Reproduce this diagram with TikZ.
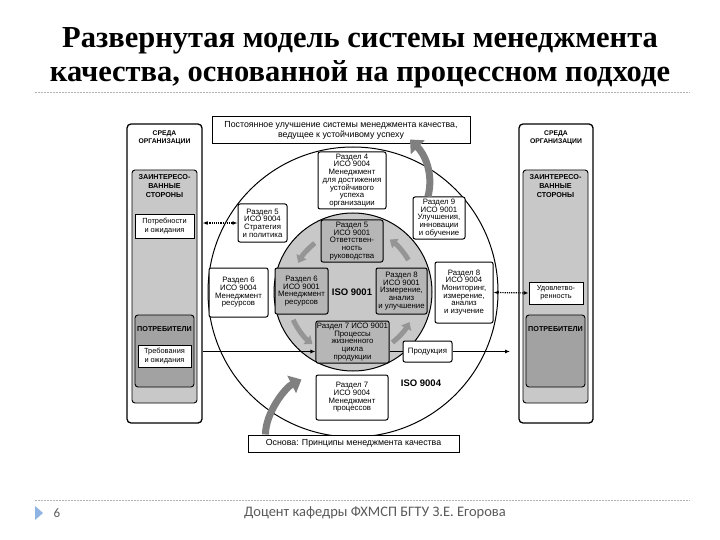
\documentclass[tikz,border=0pt]{standalone}
\usepackage{fontspec}
\setmainfont{Liberation Sans}
\newfontfamily\titlefont{Liberation Serif}
\newfontfamily\footfont{Carlito}
\usetikzlibrary{arrows.meta,positioning}
\definecolor{ltgray}{HTML}{C8C8C8}
\definecolor{dkgray}{HTML}{A2A2A2}
\definecolor{boxgray}{HTML}{B6B6B6}
\definecolor{arrgray}{HTML}{808080}
\definecolor{cycgray}{HTML}{959595}
\definecolor{footgray}{HTML}{5A5A5A}
\definecolor{bluetri}{HTML}{8EB4E3}

\begin{document}
\begin{tikzpicture}[
  x=1pt, y=-1pt,
  env/.style={draw, line width=1.3pt, rounded corners=4pt, fill=white},
  party/.style={draw, line width=0.9pt, rounded corners=3pt, fill=ltgray},
  cons/.style={draw, line width=0.9pt, rounded corners=3pt, fill=dkgray},
  hdr/.style={font=\bfseries\fontsize{6.8}{7.8}\selectfont, align=center, inner sep=0pt},
  need/.style={draw, line width=0.8pt, fill=white, align=center, inner sep=1pt, font=\fontsize{7.4}{8.2}\selectfont},
  sect/.style={draw, line width=1pt, rounded corners=2pt, fill=white, align=center, inner sep=1pt, font=\fontsize{7.8}{7.7}\selectfont},
  core/.style={sect, fill=boxgray},
  banner/.style={draw, line width=1pt, fill=white, align=center, font=\fontsize{8.8}{9.8}\selectfont},
  iso/.style={font=\bfseries\fontsize{9.5}{10}\selectfont},
  cyc/.style={line width=5pt, draw=cycgray, -{Triangle[length=7pt,width=11pt]}},
  bigcyc/.style={line width=7pt, draw=arrgray, -{Triangle[length=11pt,width=19pt]}},
  arrow/.style={-{Latex[length=5pt,width=4pt]}, line width=1pt},
  link/.style={{Latex[length=5pt,width=4pt]}-{Latex[length=5pt,width=4pt]}, densely dotted, line width=1.2pt}
]
\useasboundingbox[fill=white] (0,0) rectangle (720,540);

% title
\node[font=\titlefont\bfseries\fontsize{30.5}{34}\selectfont, align=center] (title) at (360,58)
  {Развернутая модель системы менеджмента\\качества, основанной на процессном подходе};
\draw[gray!60, dash pattern=on 2pt off 1pt, line width=0.6pt] (35,92) -- (690,92);

% left column
\node[env, minimum width=75pt, minimum height=299pt] (envL) at (164.5,273.5) {};
\node[hdr, below=7pt of envL.north] (envLt) {СРЕДА\\ОРГАНИЗАЦИИ};
\node[party, minimum width=65pt, minimum height=233pt] (partyL) at (164.5,286.5) {};
\node[hdr, font=\bfseries\fontsize{7.2}{9}\selectfont, below=5pt of partyL.north] (partyLt) {ЗАИНТЕРЕСО-\\ВАННЫЕ\\СТОРОНЫ};
\node[need, minimum width=59pt, minimum height=24pt] (needL) at (164.5,226) {Потребности\\и ожидания};
\node[cons, minimum width=59pt, minimum height=72pt] (consL) at (164.5,351) {};
\node[hdr, font=\bfseries\fontsize{7.2}{9}\selectfont, below=12pt of consL.north] (consLt) {ПОТРЕБИТЕЛИ};
\node[need, minimum width=53pt, minimum height=22pt] (reqL) at (164.5,356) {Требования\\и ожидания};

% right column
\node[env, minimum width=74pt, minimum height=299pt] (envR) at (556,273.5) {};
\node[hdr, below=7pt of envR.north] (envRt) {СРЕДА\\ОРГАНИЗАЦИИ};
\node[party, minimum width=65pt, minimum height=233pt] (partyR) at (555.5,286.5) {};
\node[hdr, font=\bfseries\fontsize{7.2}{9}\selectfont, below=5pt of partyR.north] (partyRt) {ЗАИНТЕРЕСО-\\ВАННЫЕ\\СТОРОНЫ};
\node[need, minimum width=54pt, minimum height=22pt] (satR) at (556,293) {Удовлетво-\\ренность};
\node[cons, minimum width=59pt, minimum height=72pt] (consR) at (555.5,351) {};
\node[hdr, font=\bfseries\fontsize{7.2}{9}\selectfont, below=12pt of consR.north] (consRt) {ПОТРЕБИТЕЛИ};

% circles
\coordinate (c) at (353,292);
\draw[line width=1pt] (c) circle[radius=145];
\draw[line width=1pt, fill=ltgray] (c) circle[radius=79];

% ring of ISO 9004
\node[banner, minimum width=258pt, minimum height=27pt] (aim) at (341,130.5)
  {Постоянное улучшение системы менеджмента качества,\\ведущее к устойчивому успеху};
\node[banner, minimum width=211pt, minimum height=17pt] (base) at (353.5,443.5)
  {Основа: Принципы менеджмента качества};
\node[sect, minimum width=68pt, minimum height=57pt] (r4b) at (352,180.5)
  {Раздел 4\\ИСО 9004\\Менеджмент\\для достижения\\устойчивого\\успеха\\организации};
\node[sect, minimum width=49pt, minimum height=38pt] (r5b) at (262.5,223)
  {Раздел 5\\ИСО 9004\\Стратегия\\и политика};
\node[sect, minimum width=52pt, minimum height=42pt] (r9a) at (439,218)
  {Раздел 9\\ИСО 9001\\Улучшения,\\инновации\\и обучение};
\node[sect, minimum width=59pt, minimum height=49pt] (r6b) at (238.5,292.5)
  {Раздел 6\\ИСО 9004\\Менеджмент\\ресурсов};
\node[sect, minimum width=58pt, minimum height=61pt] (r8b) at (464,292.5)
  {Раздел 8\\ИСО 9004\\Мониторинг,\\измерение,\\анализ\\и изучение};
\node[sect, minimum width=72pt, minimum height=45pt] (r7b) at (352,397.5)
  {Раздел 7\\ИСО 9004\\Менеджмент\\процессов};
\node[sect, minimum width=49pt, minimum height=21pt] (prod) at (427.5,351.5) {Продукция};
\node[iso] (iso4) at (421,383) {ISO 9004};

% core of ISO 9001
\node[core, minimum width=62pt, minimum height=42pt] (r5a) at (352,241)
  {Раздел 5\\ИСО 9001\\Ответствен-\\ность\\руководства};
\node[core, minimum width=53pt, minimum height=46pt] (r6a) at (301.5,291)
  {Раздел 6\\ИСО 9001\\Менеджмент\\ресурсов};
\node[core, minimum width=51pt, minimum height=46pt] (r8a) at (401.5,291)
  {Раздел 8\\ИСО 9001\\Измерение,\\анализ\\и улучшение};
\node[core, minimum width=71pt, minimum height=42pt] (r7a) at (352.5,342)
  {Раздел 7 ИСО 9001\\Процессы\\жизненного\\цикла\\продукции};
\node[iso] (iso1) at (352,292) {ISO 9001};

% PDCA arrows inside
\draw[cyc] ([shift={(-128:62)}]c) arc[start angle=-128, end angle=-152, radius=62];
\draw[cyc] ([shift={(155:66)}]c) arc[start angle=155, end angle=128, radius=66];
\draw[cyc] ([shift={(52:64)}]c) arc[start angle=52, end angle=28, radius=64];
\draw[cyc] ([shift={(-30:64)}]c) arc[start angle=-30, end angle=-55, radius=64];

% improvement and foundation
\draw[bigcyc] ([xshift=-11pt]r9a.north) .. controls +(6,-24) and +(14,14) .. ([xshift=69pt,yshift=5pt]aim.south);
\draw[bigcyc] ([xshift=18pt]base.north west) .. controls +(0,-22) and +(-16,8) .. ([xshift=-14pt,yshift=-5pt]r7b.north west);

% flows
\coordinate (out) at (510,351.5);
\draw[link] (envL.east |- r5b.west) -- (r5b.west);
\draw[link] (r8b.east) -- (satR.west);
\draw[arrow] (envL.east |- prod.west) -- (r7a.west |- prod.west);
\draw[line width=1pt] (r7a.east |- prod.west) -- (prod.west);
\draw[arrow] (prod.east) -- (out);

% footer
\draw[gray!60, dash pattern=on 2pt off 1pt, line width=0.6pt] (35,500) -- (690,500);
\fill[bluetri] (35,506) -- (43,513) -- (35,520) -- cycle;
\node[font=\footfont\fontsize{13}{15}\selectfont, text=footgray] (page) at (57,513) {6};
\node[font=\footfont\fontsize{14.5}{16}\selectfont, text=footgray] (author) at (375,513) {Доцент кафедры ФХМСП БГТУ З.Е. Егорова};
\end{tikzpicture}
\end{document}
